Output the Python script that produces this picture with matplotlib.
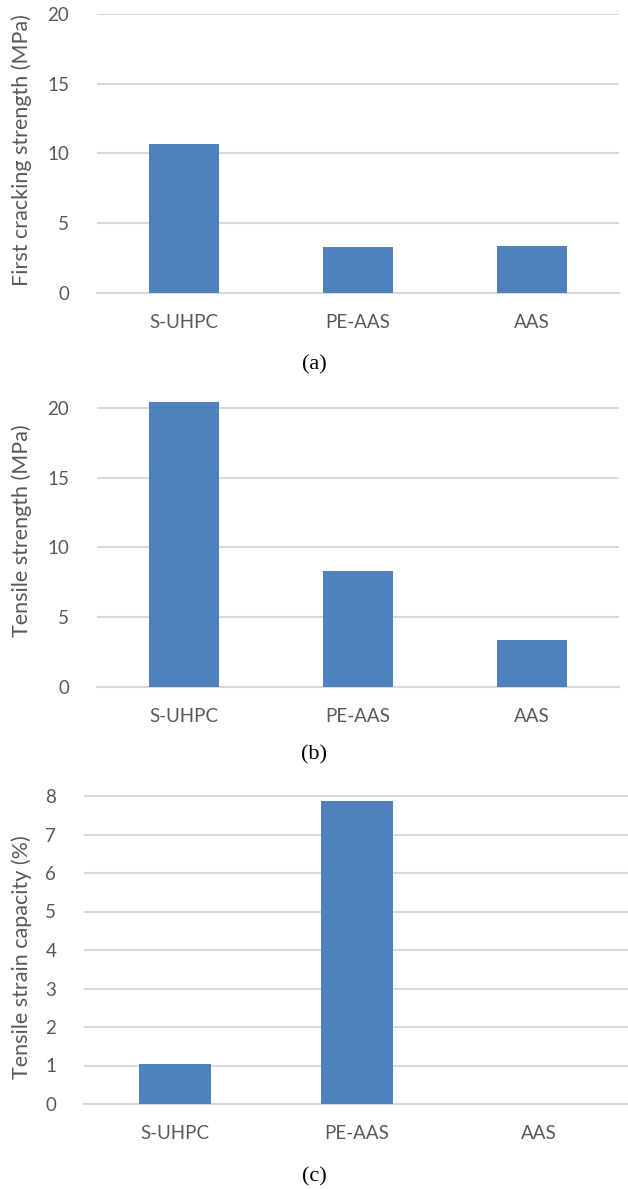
import matplotlib.pyplot as plt

# Mix labels and measured properties
mixes = ['S-UHPC', 'PE-AAS', 'AAS']
first_crack = [10.67, 3.33, 3.40]      # MPa
tensile_strength = [20.45, 8.28, 3.40]  # MPa
strain_capacity = [1.04, 7.87, 0.0]     # %

BAR = '#4f81bd'
GRID = '#d9d9d9'
TEXT = '#595959'

plt.rcParams['font.family'] = ['Lato', 'DejaVu Sans']

fig = plt.figure(figsize=(6.28, 11.89), dpi=100)
W, H = 628, 1189

panels = [
    # values, ylabel, tick max, step, (left, right, y of top tick, y of zero) px,
    # ylabel centre y, caption, caption y
    (first_crack, 'First cracking strength (MPa)', 20, 5, (97, 619, 14, 293), 150, '(a)', 365),
    (tensile_strength, 'Tensile strength (MPa)', 20, 5, (97, 619, 408, 687), 531, '(b)', 755),
    (strain_capacity, 'Tensile strain capacity (%)', 8, 1, (84, 630, 796, 1104), 957, '(c)', 1177),
]

for values, ylabel, tmax, step, box, lab_y, caption, cap_y in panels:
    left, right, y_top, y_zero = box
    # let the axis run a little past the top tick when a bar overshoots it
    ymax = max(tmax, max(values) + 0.15)
    top = y_zero - (y_zero - y_top) * ymax / tmax
    ax = fig.add_axes([left / W, 1 - y_zero / H, (right - left) / W, (y_zero - top) / H])

    x = range(len(mixes))
    ax.bar(x, values, width=0.4, color=BAR, zorder=3)
    ax.set_xlim(-0.5, len(mixes) - 0.5)
    ax.set_ylim(0, ymax)
    ax.set_yticks(range(0, tmax + 1, step))
    ax.set_xticks(list(x))
    ax.set_xticklabels(mixes)
    ax.grid(axis='y', color=GRID, linewidth=1.5, zorder=0)
    ax.set_axisbelow(True)
    for side in ['top', 'right', 'left']:
        ax.spines[side].set_visible(False)
    ax.spines['bottom'].set_color(GRID)
    ax.spines['bottom'].set_linewidth(1.5)
    ax.tick_params(axis='both', length=0, colors=TEXT, labelsize=13.5)
    ax.tick_params(axis='y', pad=20)
    ax.tick_params(axis='x', pad=15)
    ax.set_ylabel(ylabel, color=TEXT, fontsize=15.5)
    ax.yaxis.set_label_coords(22 / W, 1 - lab_y / H, transform=fig.transFigure)
    ax.yaxis.label.set_va('center')
    fig.text(0.5, 1 - cap_y / H, caption, ha='center', va='center',
             family='Liberation Serif', fontsize=16, color='black')

fig.savefig('out.png', dpi=100, facecolor='white')
